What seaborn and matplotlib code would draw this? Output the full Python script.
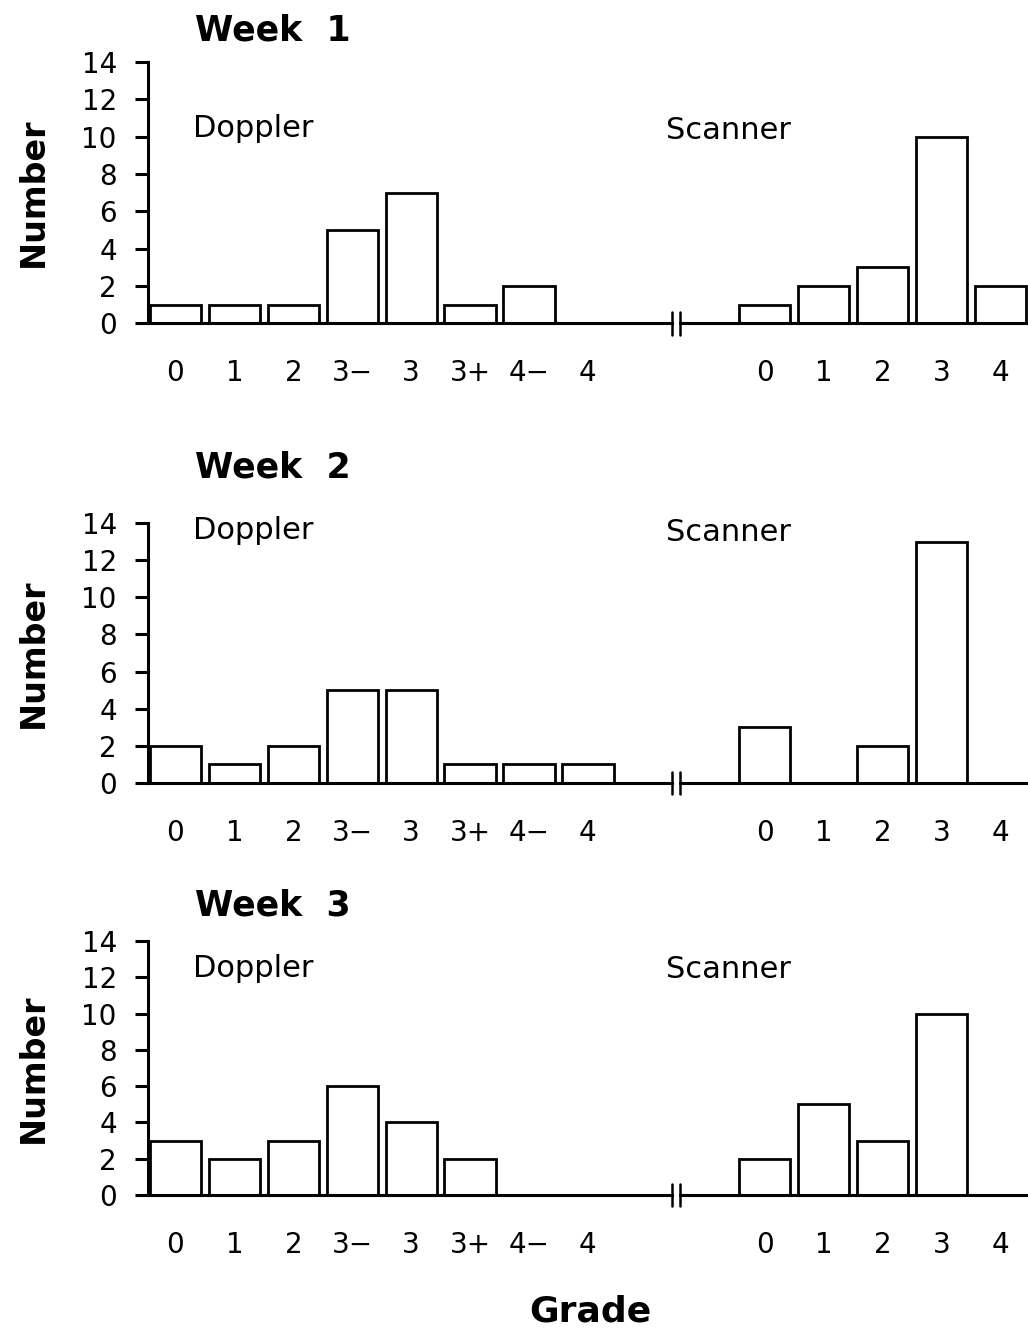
import pandas as pd
import matplotlib.pyplot as plt
import seaborn as sns

# data
weeks = ['Week  1', 'Week  2', 'Week  3']
doppler_grades = ['0', '1', '2', '3−', '3', '3+', '4−', '4']
scanner_grades = ['0', '1', '2', '3', '4']
doppler_week1 = [1, 1, 1, 5, 7, 1, 2, 0]
doppler_week2 = [2, 1, 2, 5, 5, 1, 1, 1]
doppler_week3 = [3, 2, 3, 6, 4, 2, 0, 0]
scanner_week1 = [1, 2, 3, 10, 2]
scanner_week2 = [3, 0, 2, 13, 0]
scanner_week3 = [2, 5, 3, 10, 0]

doppler_counts = [doppler_week1, doppler_week2, doppler_week3]
scanner_counts = [scanner_week1, scanner_week2, scanner_week3]

sns.set_style('ticks')
plt.rcParams['font.family'] = ['DejaVu Sans']
plt.rcParams.update({'text.color': 'black', 'axes.labelcolor': 'black',
                     'xtick.color': 'black', 'ytick.color': 'black',
                     'axes.edgecolor': 'black'})

# slot positions: doppler grades, a gap of two, then scanner grades
gap = 2
pos_d = list(range(len(doppler_grades)))
pos_s = [len(doppler_grades) + gap + i for i in range(len(scanner_grades))]
positions = pos_d + pos_s
labels = doppler_grades + scanner_grades
brk = len(doppler_grades) + 0.47

fig = plt.figure(figsize=(10.28, 13.36), dpi=100)
# [left, bottom, width, height] for each week panel
boxes = [[0.144, 0.758, 0.856, 0.1955],
         [0.144, 0.4139, 0.856, 0.1946],
         [0.144, 0.1055, 0.856, 0.1902]]
title_y = [1.12, 1.215, 1.138]
label_y = [(10.45, 10.35), (13.6, 13.5), (12.5, 12.4)]

xmin, xmax = -0.466, 14.47

for i in range(3):
    ax = fig.add_axes(boxes[i])
    df = pd.DataFrame({'pos': positions,
                       'count': doppler_counts[i] + scanner_counts[i]})
    sns.barplot(data=df, x='pos', y='count', native_scale=True, width=0.87,
                color='white', edgecolor='black', linewidth=2,
                errorbar=None, ax=ax, saturation=1)
    ax.set_xlim(xmin, xmax)
    ax.set_ylim(0, 14)
    ax.set_yticks(range(0, 15, 2))
    ax.set_xticks(positions)
    ax.set_xticklabels(labels)
    ax.tick_params(axis='x', length=0, pad=26, labelsize=20)
    ax.tick_params(axis='y', length=9.5, width=2.2, pad=13, labelsize=20)
    ax.set_xlabel('')
    ax.set_ylabel('Number', fontsize=24, fontweight='bold')
    ax.yaxis.set_label_coords(-0.112, 0.5)

    sns.despine(ax=ax)
    ax.spines['left'].set_linewidth(2.2)
    ax.spines['bottom'].set_linewidth(2.2)
    ax.spines['bottom'].set_bounds(xmin, brk - 0.05)
    # rest of the baseline after the break
    ax.plot([brk + 0.1, xmax], [0, 0], color='black', lw=2.2, clip_on=False)
    ax.plot([brk - 0.04, brk - 0.04], [-0.6, 0.6], color='black', lw=1.8, clip_on=False)
    ax.plot([brk + 0.1, brk + 0.1], [-0.6, 0.6], color='black', lw=1.8, clip_on=False)

    ax.text(0.053, title_y[i], weeks[i], transform=ax.transAxes,
            fontsize=25, fontweight='bold', va='center', ha='left')
    ax.text(0.3, label_y[i][0], 'Doppler', fontsize=22, va='center', ha='left')
    ax.text(8.33, label_y[i][1], 'Scanner', fontsize=22, va='center', ha='left')

fig.text(0.574, 0.018, 'Grade', fontsize=26, fontweight='bold', ha='center', va='center')

plt.savefig('out.png', dpi=100)
